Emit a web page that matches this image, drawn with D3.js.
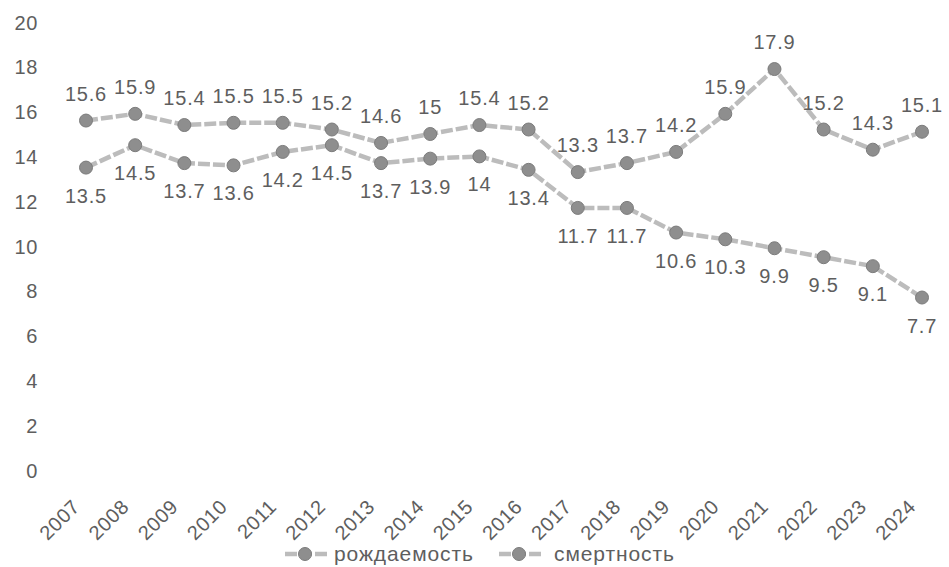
<!DOCTYPE html>
<html>
<head>
<meta charset="utf-8">
<script src="https://cdn.jsdelivr.net/npm/d3@7"></script>
<style>
  html, body { margin: 0; padding: 0; background: #fff; }
  svg { display: block; }
  text { font-family: "Liberation Sans", Arial, sans-serif; fill: #5e5e5e; }
</style>
</head>
<body>
<svg id="chart" width="949" height="567"></svg>
<script>
const years = ["2007","2008","2009","2010","2011","2012","2013","2014","2015","2016","2017","2018","2019","2020","2021","2022","2023","2024"];
const birth = [13.5,14.5,13.7,13.6,14.2,14.5,13.7,13.9,14,13.4,11.7,11.7,10.6,10.3,9.9,9.5,9.1,7.7];
const death = [15.6,15.9,15.4,15.5,15.5,15.2,14.6,15,15.4,15.2,13.3,13.7,14.2,15.9,17.9,15.2,14.3,15.1];
const yTicks = [0,2,4,6,8,10,12,14,16,18,20];
const seriesNames = ["рождаемость","смертность"];

const svg = d3.select("#chart");
const lineColor = "#bcbcbc";
const markerFill = "#8e8e8e";
const markerStroke = "#7c7c7c";
const textColor = "#5e5e5e";

const x = d3.scalePoint().domain(years).range([86, 922]);
const y = d3.scaleLinear().domain([0, 20]).range([470, 22]);

// Y axis (no line, no ticks)
const yAxis = d3.axisLeft(y).tickValues(yTicks).tickSize(0).tickPadding(0).tickFormat(d3.format("d"));
const gy = svg.append("g").attr("transform", "translate(38,0)").call(yAxis);
gy.select(".domain").remove();
gy.selectAll("text")
  .attr("dy", "0.35em")
  .style("font-size", "20px")
  .style("letter-spacing", "0.6px")
  .style("fill", textColor)
  .style("font-family", "'Liberation Sans', Arial, sans-serif");

// X axis
const xAxis = d3.axisBottom(x).tickSize(0).tickPadding(0);
const gx = svg.append("g").call(xAxis);
gx.select(".domain").remove();
gx.selectAll(".tick").attr("transform", d => `translate(${x(d)},0)`);
gx.selectAll("text")
  .attr("text-anchor", "end")
  .attr("dy", 0)
  .attr("y", 0)
  .attr("transform", "translate(-5,508) rotate(-45)")
  .style("font-size", "20px")
  .style("letter-spacing", "0.6px")
  .style("fill", textColor)
  .style("font-family", "'Liberation Sans', Arial, sans-serif");

const series = [
  { name: seriesNames[0], values: birth, labelDy: 35 },
  { name: seriesNames[1], values: death, labelDy: -20 }
];

const line = d3.line().x((d, i) => x(years[i])).y(d => y(d));

series.forEach(s => {
  svg.append("path")
    .datum(s.values)
    .attr("d", line)
    .attr("fill", "none")
    .attr("stroke", lineColor)
    .attr("stroke-width", 4.5)
    .attr("stroke-dasharray", "12,3");

  svg.append("g").selectAll("circle")
    .data(s.values)
    .join("circle")
    .attr("cx", (d, i) => x(years[i]))
    .attr("cy", d => y(d))
    .attr("r", 6.5)
    .attr("fill", markerFill)
    .attr("stroke", markerStroke)
    .attr("stroke-width", 1);

  svg.append("g").selectAll("text")
    .data(s.values)
    .join("text")
    .attr("x", (d, i) => x(years[i]))
    .attr("y", d => y(d) + s.labelDy)
    .attr("text-anchor", "middle")
    .style("font-size", "20px")
    .style("letter-spacing", "0.8px")
    .style("fill", textColor)
    .text(d => d);
});

// Legend
const legendItems = [
  { name: seriesNames[0], cx: 305, tx: 334 },
  { name: seriesNames[1], cx: 519, tx: 554 }
];
const lg = svg.append("g");
legendItems.forEach(it => {
  lg.append("line")
    .attr("x1", it.cx - 22).attr("x2", it.cx + 22)
    .attr("y1", 554).attr("y2", 554)
    .attr("stroke", lineColor).attr("stroke-width", 4.5)
    .attr("stroke-dasharray", "12,3").attr("stroke-dashoffset", -2);
  lg.append("circle")
    .attr("cx", it.cx).attr("cy", 554).attr("r", 6.5)
    .attr("fill", markerFill).attr("stroke", markerStroke).attr("stroke-width", 1);
  lg.append("text")
    .attr("x", it.tx).attr("y", 561)
    .style("font-size", "21px")
    .style("letter-spacing", "0.9px")
    .style("fill", textColor)
    .text(it.name);
});
</script>
</body>
</html>
